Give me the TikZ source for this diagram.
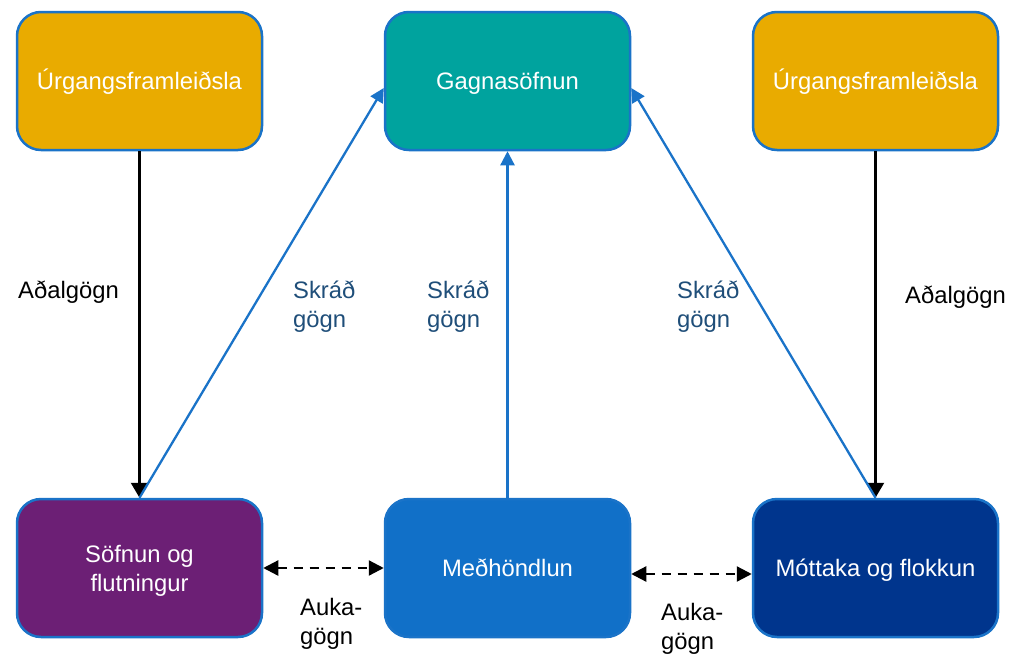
\documentclass[tikz,border=0pt]{standalone}
\usepackage{fontspec}
\setmainfont{Liberation Sans}
\usetikzlibrary{arrows.meta,calc}
\definecolor{gold}{HTML}{E9AB00}
\definecolor{teal2}{HTML}{00A39E}
\definecolor{purp}{HTML}{6C1F75}
\definecolor{midblue}{HTML}{1170C8}
\definecolor{darkblue}{HTML}{00358D}
\definecolor{edge}{HTML}{1A73C8}
\definecolor{lblue}{HTML}{1F4E79}
\tikzset{
  box/.style={draw=edge, line width=2.5pt, rounded corners=24pt, minimum width=245pt, minimum height=138pt, align=center, text=white, font=\fontsize{23.8}{29}\selectfont, inner sep=0pt, text height=17pt, text depth=0pt},
  lbl/.style={font=\fontsize{23.8}{29}\selectfont, align=left, inner sep=0pt},
  blk/.style={line width=2.3pt, black, -{Triangle[length=15pt,width=17pt]}},
  blu/.style={line width=2.3pt, edge, -{Triangle[length=14pt,width=14pt]}},
  dsh/.style={line width=2.3pt, black, dash pattern=on 9pt off 7pt, {Triangle[length=15pt,width=15pt]}-{Triangle[length=15pt,width=15pt]}}
}
\begin{document}
\begin{tikzpicture}[x=1pt,y=-1pt]
\useasboundingbox (0,0) rectangle (1010,656);
\node[box, fill=gold] (u1) at (139.5,81) {Úrgangsframleiðsla};
\node[box, fill=teal2] (gs) at (507.5,81) {Gagnasöfnun};
\node[box, fill=gold] (u2) at (875.5,81) {Úrgangsframleiðsla};
\node[box, fill=purp, text height=46pt] (sf) at (139.5,568) {Söfnun og\\flutningur};
\node[box, fill=midblue] (mh) at (507.5,568) {Meðhöndlun};
\node[box, fill=darkblue] (mf) at (875.5,568) {Móttaka og flokkun};

\coordinate (gsl) at ($(gs.west)+(0,7)$);
\coordinate (gsr) at ($(gs.east)+(0,7)$);
\coordinate (mhr) at ($(mh.east)+(0,6)$);
\coordinate (mfl) at ($(mf.west)+(0,6)$);

\draw[blk] (u1.south) -- (sf.north);
\draw[blk] (u2.south) -- (mf.north);
\draw[blu] (sf.north) -- (gsl);
\draw[blu] (mh.north) -- (gs.south);
\draw[blu] (mf.north) -- (gsr);
\draw[dsh] (sf.east) -- (mh.west);
\draw[dsh] (mhr) -- (mfl);

\node[lbl, anchor=west] (a1) at (18,292) {Aðalgögn};
\node[lbl, anchor=west] (a2) at (905,297) {Aðalgögn};
\node[lbl, anchor=west, text=lblue] (s1) at (293,307) {Skráð\\gögn};
\node[lbl, anchor=west, text=lblue] (s2) at (427,307) {Skráð\\gögn};
\node[lbl, anchor=west, text=lblue] (s3) at (677,307) {Skráð\\gögn};
\node[lbl, anchor=west] (k1) at (300,624) {Auka-\\gögn};
\node[lbl, anchor=west] (k2) at (661,629) {Auka-\\gögn};
\end{tikzpicture}
\end{document}
